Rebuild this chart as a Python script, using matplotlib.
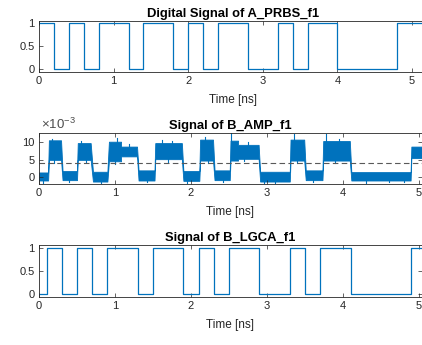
import matplotlib
matplotlib.use("Agg")
import matplotlib.pyplot as plt
import numpy as np

plt.rcParams['font.family'] = ['Liberation Sans', 'DejaVu Sans']
plt.rcParams['mathtext.fontset'] = 'custom'
plt.rcParams['mathtext.rm'] = 'Liberation Sans'

BLUE = '#0072BD'

# A_PRBS_f1 bits, 0.2 ns per bit
bit_period = 0.2
prbs_bits = [1, 0, 1, 0, 1, 1, 0, 1, 1, 0, 1, 0, 1, 1, 0, 0, 1, 0, 1, 1, 0, 0, 0, 0, 1, 1]

# B_LGCA_f1 switching times (ns) and levels
lgca_t = [0.0, 0.1, 0.3, 0.5, 0.7, 0.9, 1.3, 1.5, 1.9, 2.1, 2.3, 2.5, 2.9, 3.3, 3.5, 3.7, 4.1, 4.9, 5.04]
lgca_v = [0, 1, 0, 1, 0, 1, 0, 1, 0, 1, 0, 1, 0, 1, 0, 1, 0, 1, 1]

# B_AMP_f1 noise band per segment (ns, x1e-3 V)
amp_t0 = [0.00, 0.13, 0.31, 0.51, 0.71, 0.92, 1.08, 1.31, 1.53, 1.90, 2.12, 2.31, 2.52, 2.62, 2.91, 3.31, 3.51, 3.74, 4.11, 4.90]
amp_t1 = [0.12, 0.29, 0.50, 0.68, 0.90, 1.08, 1.29, 1.52, 1.88, 2.11, 2.29, 2.51, 2.62, 2.89, 3.30, 3.49, 3.73, 4.09, 4.89, 5.04]
amp_lo = [-0.9, 5.0, -0.8, 5.0, -1.2, 4.6, 6.0, -0.9, 5.2, -1.0, 4.8, -0.8, 4.8, 5.3, -1.2, 4.8, -0.8, 4.8, -0.9, 5.5]
amp_hi = [1.4, 10.6, 1.8, 9.8, 1.6, 10.2, 8.8, 2.0, 9.8, 1.8, 10.8, 2.0, 10.5, 9.3, 1.6, 10.8, 2.0, 10.4, 1.5, 8.8]
# noise spikes seen in the picture
spike_t = [0.17, 0.55, 1.02, 1.18, 1.62, 1.75, 2.18, 2.53, 2.75, 3.36, 3.78, 3.95,
           0.05, 0.40, 0.82, 1.42, 1.95, 2.42, 2.96, 3.10, 3.60, 4.3, 4.6, 4.8,
           0.20, 0.62, 1.00, 1.70, 2.22, 2.70, 3.40, 3.90]
spike_v = [11.0, 10.4, 11.3, 9.4, 10.6, 10.3, 11.4, 12.6, 10.0, 12.4, 12.5, 11.0,
           -1.5, -1.4, -1.8, -1.3, -1.6, -1.3, -1.9, -1.6, -1.2, -1.5, -1.4, -1.2,
           4.2, 4.3, 3.8, 4.4, 4.0, 4.6, 4.1, 4.0]
threshold = 4.0

fig = plt.figure(figsize=(4.22, 3.45), dpi=100)


def style(ax):
    ax.tick_params(direction='in', length=3, width=0.5, labelsize=8,
                   top=True, right=True, colors='0.15', pad=3)
    for s in ax.spines.values():
        s.set_linewidth(0.6)
        s.set_color('0.15')
    ax.set_xticks([0, 1, 2, 3, 4, 5])
    ax.set_xlabel('Time [ns]', fontsize=8.5, labelpad=6, color='0.15')


# top panel
ax1 = fig.add_axes([39/422, (345-71.7)/345, 388/422, 50.7/345])
t_a = [i*bit_period for i in range(len(prbs_bits) + 1)]
ax1.step(t_a, prbs_bits + [prbs_bits[-1]], where='post', color=BLUE, lw=0.9)
ax1.set_xlim(0, 5.2)
ax1.set_ylim(-0.052, 1.05)
ax1.set_yticks([0, 0.5, 1])
ax1.set_yticklabels(['0', '0.5', '1'])
ax1.set_title('Digital Signal of A_PRBS_f1', fontsize=9.4, fontweight='bold', pad=3)
style(ax1)

# middle panel
ax2 = fig.add_axes([39/422, (345-184)/345, 383/422, 50.7/345])
xs, lo, hi = [], [], []
for a, b, l, h in zip(amp_t0, amp_t1, amp_lo, amp_hi):
    xs += [a, b]
    lo += [l, l]
    hi += [h, h]
ax2.fill_between(xs, lo, hi, color=BLUE, lw=0.6, edgecolor=BLUE)
for t, v in zip(spike_t, spike_v):
    i = np.searchsorted(amp_t1, t)
    base = amp_hi[i] if v > amp_hi[i] else amp_lo[i]
    ax2.plot([t, t], [base, v], color=BLUE, lw=0.8)
ax2.axhline(threshold, color='0.35', ls=(0, (5, 3)), lw=0.8)
ax2.set_xlim(0, 5.04)
ax2.set_ylim(-1.9, 12.6)
ax2.set_yticks([0, 5, 10])
ax2.set_yticklabels(['0', '5', '10'])
ax2.text(0.005, 1.02, r'$\times10^{-3}$', transform=ax2.transAxes, fontsize=9.5,
         color='0.3', ha='left', va='bottom')
ax2.set_title('Signal of B_AMP_f1', fontsize=9.4, fontweight='bold', pad=3)
style(ax2)

# bottom panel
ax3 = fig.add_axes([39/422, (345-296.7)/345, 383/422, 51.7/345])
ax3.step(lgca_t, lgca_v, where='post', color=BLUE, lw=0.9)
ax3.set_xlim(0, 5.04)
ax3.set_ylim(-0.05, 1.07)
ax3.set_yticks([0, 0.5, 1])
ax3.set_yticklabels(['0', '0.5', '1'])
ax3.set_title('Signal of B_LGCA_f1', fontsize=9.4, fontweight='bold', pad=3)
style(ax3)

fig.savefig('out.png', dpi=100)
